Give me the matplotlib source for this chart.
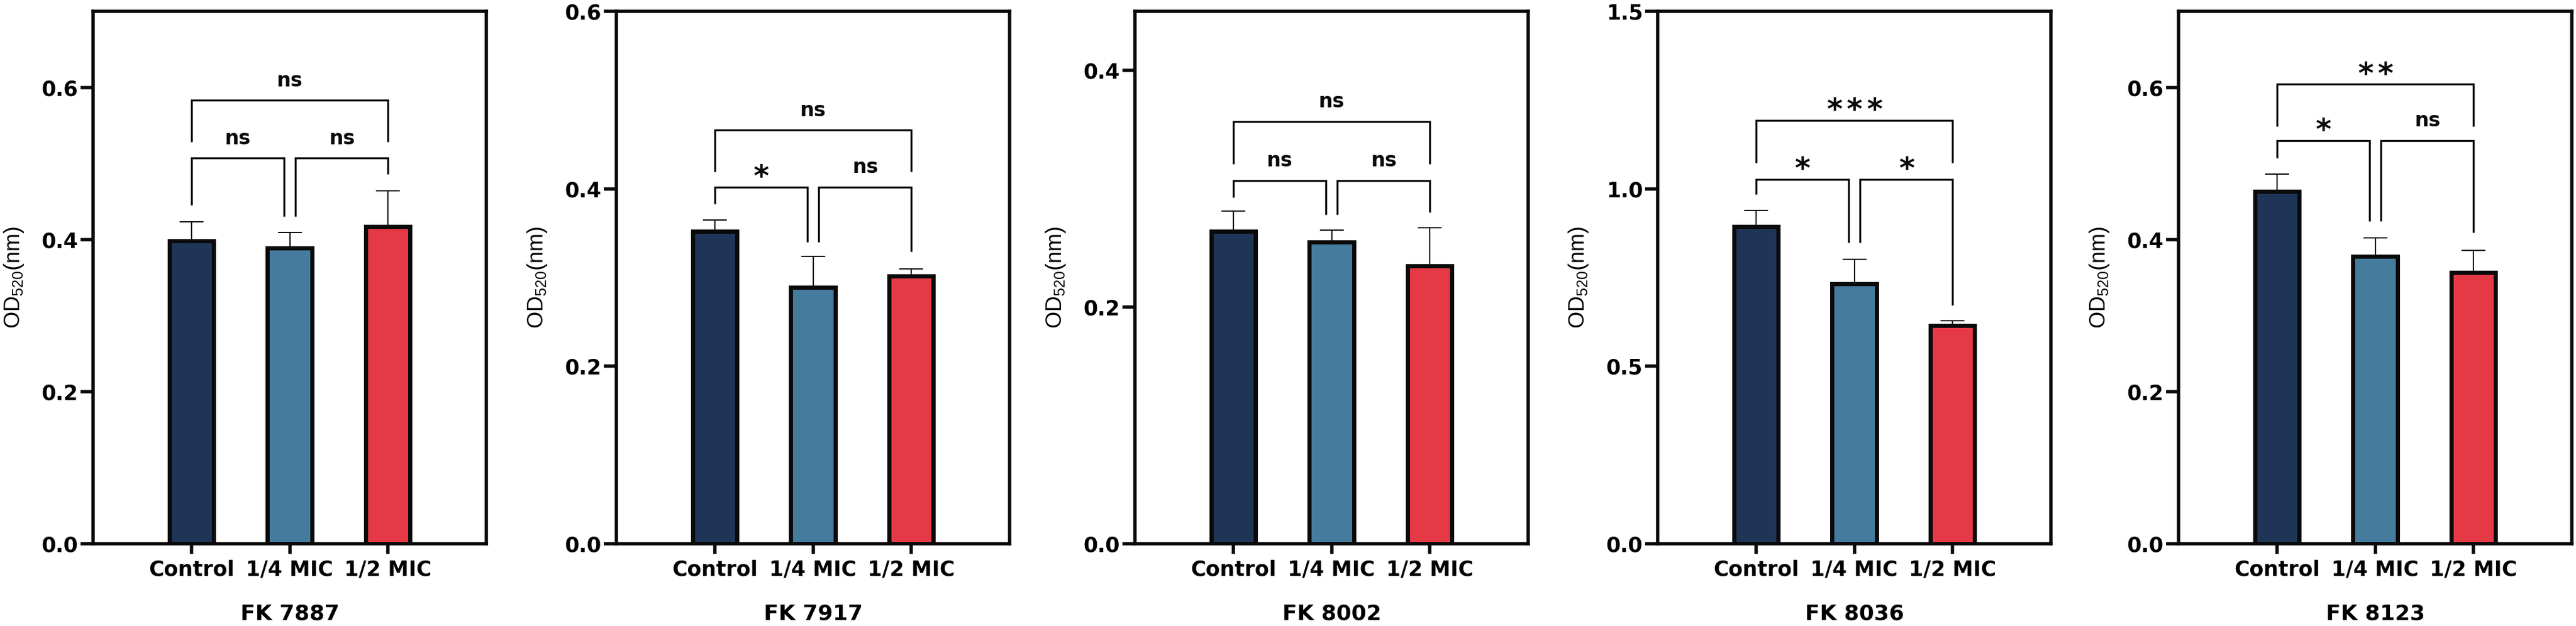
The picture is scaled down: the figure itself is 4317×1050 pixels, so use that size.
import matplotlib
matplotlib.use("Agg")
import matplotlib.pyplot as plt

# ---- data -----------------------------------------------------------------------
GROUPS = ["Control", "1/4 MIC", "1/2 MIC"]
COLORS = ["#1f3557", "#457b9d", "#e63946"]
STRAINS = ["FK 7887", "FK 7917", "FK 8002", "FK 8036", "FK 8123"]

mean_7887 = [0.398, 0.389, 0.417]
sd_7887 = [0.025, 0.020, 0.047]
mean_7917 = [0.352, 0.289, 0.302]
sd_7917 = [0.013, 0.035, 0.008]
mean_8002 = [0.264, 0.255, 0.235]
sd_8002 = [0.017, 0.010, 0.032]
mean_8036 = [0.894, 0.733, 0.615]
sd_8036 = [0.045, 0.068, 0.013]
mean_8123 = [0.463, 0.378, 0.357]
sd_8123 = [0.023, 0.024, 0.029]

# significance labels: (Control vs 1/2, Control vs 1/4, 1/4 vs 1/2)
sig_7887 = ["ns", "ns", "ns"]
sig_7917 = ["ns", "*", "ns"]
sig_8002 = ["ns", "ns", "ns"]
sig_8036 = ["***", "*", "*"]
sig_8123 = ["**", "*", "ns"]

YMAX = [0.7, 0.6, 0.45, 1.5, 0.7]
YTICKS = [[0, 0.2, 0.4, 0.6], [0, 0.2, 0.4, 0.6], [0, 0.2, 0.4],
          [0, 0.5, 1.0, 1.5], [0, 0.2, 0.4, 0.6]]
# bracket levels: upper y, upper legs end, lower y, left leg end, middle legs end, right leg end
BRK = [[0.583, 0.528, 0.507, 0.445, 0.430, 0.486],
       [0.466, 0.419, 0.402, 0.383, 0.340, 0.329],
       [0.357, 0.321, 0.307, 0.293, 0.278, 0.280],
       [1.193, 1.074, 1.027, 0.984, 0.848, 0.672],
       [0.604, 0.549, 0.530, 0.507, 0.424, 0.409]]

MEANS = [mean_7887, mean_7917, mean_8002, mean_8036, mean_8123]
SDS = [sd_7887, sd_7917, sd_8002, sd_8036, sd_8123]
SIGS = [sig_7887, sig_7917, sig_8002, sig_8036, sig_8123]

W, H = 4317, 1050
LEFTS = [156, 1033, 1902, 2778, 3651]
AXW, AXB, AXH = 659, 912, 893
BLK = "#0a0a0a"

plt.rcParams["font.family"] = "DejaVu Sans"
plt.rcParams["mathtext.fontset"] = "custom"
plt.rcParams["mathtext.rm"] = "Liberation Sans"
plt.rcParams["mathtext.it"] = "Liberation Sans"

fig = plt.figure(figsize=(W / 100, H / 100), dpi=100)


def sig_text(ax, x, y, s):
    if s.startswith("*"):
        n = len(s)
        for i in range(n):
            ax.annotate("*", (x, y), xytext=((i - (n - 1) / 2) * 24, 1),
                        textcoords="offset points", ha="center", va="baseline",
                        fontsize=36, fontweight="bold", color=BLK)
    else:
        ax.annotate(s, (x, y), xytext=(0, 17), textcoords="offset points",
                    ha="center", va="baseline", fontsize=24, fontweight="bold", color=BLK)


def bracket(ax, x0, x1, y, b0, b1, s):
    ax.plot([x0, x0, x1, x1], [b0, y, y, b1], color=BLK, lw=2.4,
            solid_joinstyle="miter", solid_capstyle="butt", clip_on=False)
    sig_text(ax, (x0 + x1) / 2, y, s)


for k in range(5):
    ax = fig.add_axes([LEFTS[k] / W, (H - AXB) / H, AXW / W, AXH / H])
    x = range(len(GROUPS))
    ax.bar(x, MEANS[k], width=0.45, color=COLORS, edgecolor=BLK, linewidth=5, zorder=2)
    ax.errorbar(x, MEANS[k], yerr=[[0] * 3, SDS[k]], fmt="none", ecolor=BLK,
                elinewidth=1.5, capsize=14.5, capthick=1.5, zorder=1)
    up, upleg, lo, lleg, mleg, rleg = BRK[k]
    bracket(ax, 0, 2, up, upleg, upleg, SIGS[k][0])
    bracket(ax, 0, 0.94, lo, lleg, mleg, SIGS[k][1])
    bracket(ax, 1.06, 2, lo, mleg, rleg, SIGS[k][2])

    ax.set_xlim(-1, 3)
    ax.set_ylim(0, YMAX[k])
    ax.set_yticks(YTICKS[k])
    ax.set_yticklabels(["%.1f" % t for t in YTICKS[k]])
    ax.set_xticks(list(x))
    ax.set_xticklabels(GROUPS)
    for sp in ax.spines.values():
        sp.set_linewidth(4)
        sp.set_color(BLK)
    ax.tick_params(axis="y", length=15, width=4, pad=3, labelsize=25, color=BLK)
    ax.tick_params(axis="x", length=12, width=4, pad=7, labelsize=25, color=BLK)
    for lab in ax.get_xticklabels() + ax.get_yticklabels():
        lab.set_fontweight("bold")
    ax.set_ylabel("OD$_{520}$(nm)", fontsize=26, family="Liberation Sans")
    ax.yaxis.set_label_coords(-0.171, 0.5)
    ax.set_xlabel(STRAINS[k], fontsize=26, fontweight="bold")
    ax.xaxis.set_label_coords(0.5, -0.113)

fig.savefig("out.png", dpi=100)
